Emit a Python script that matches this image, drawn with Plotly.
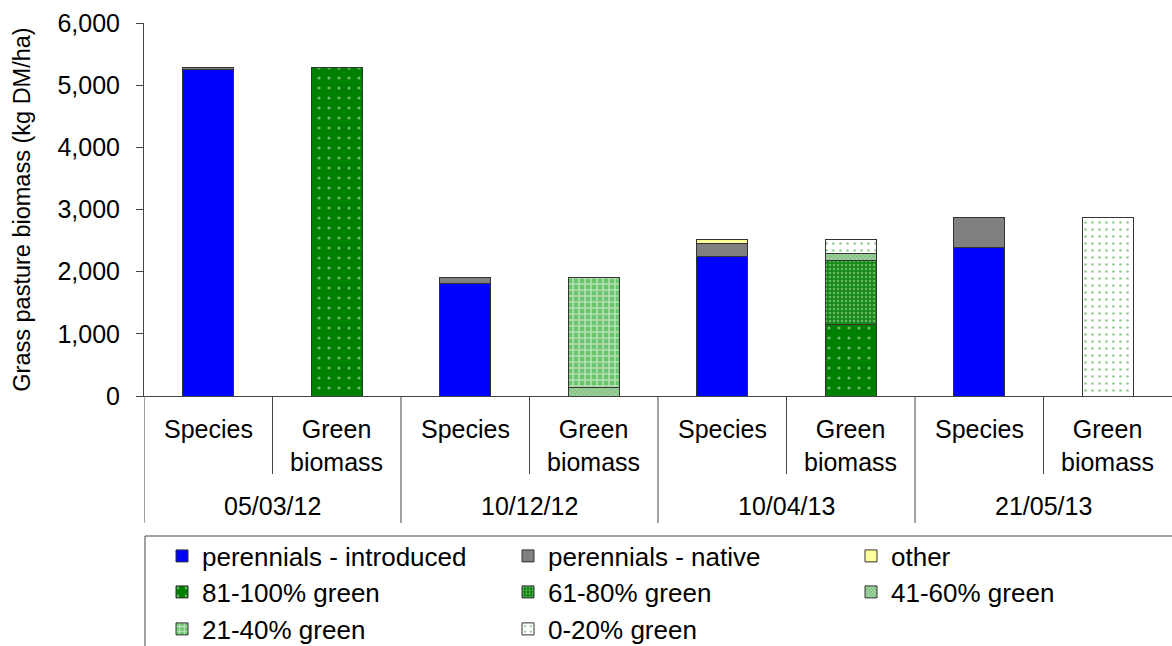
import plotly.graph_objects as go

dates = ["05/03/12", "10/12/12", "10/04/13", "21/05/13"]
kinds = ["Species", "Green<br>biomass"]

# Species composition (kg DM/ha)
perennials_introduced = [5250, 1815, 2240, 2390]
perennials_native = [30, 95, 220, 475]
other = [0, 0, 60, 0]

# Green biomass classes (kg DM/ha)
g81_100 = [5280, 0, 1150, 0]
g61_80 = [0, 0, 1035, 0]
g41_60 = [0, 130, 110, 0]
g21_40 = [0, 1780, 0, 0]
g0_20 = [0, 0, 225, 2865]

cats = [f"{d}|{k}" for d in dates for k in kinds]


def species_vals(v):
    out = []
    for val in v:
        out += [val if val else None, None]
    return out


def green_vals(v):
    out = []
    for val in v:
        out += [None, val if val else None]
    return out


FONT = "Liberation Sans, Arial, sans-serif"
FS = 25
line = dict(color="#333333", width=1)

series = [
    ("perennials - introduced", species_vals(perennials_introduced), dict(color="#0000FF")),
    ("perennials - native", species_vals(perennials_native), dict(color="#808080")),
    ("other", species_vals(other), dict(color="#FFFF99")),
    ("81-100% green", green_vals(g81_100),
     dict(color="#008000", pattern=dict(shape=".", fgcolor="#d8f0d8", bgcolor="#008000", size=10, solidity=0.08))),
    ("61-80% green", green_vals(g61_80),
     dict(color="#1a8c1a", pattern=dict(shape=".", fgcolor="#b8e8b8", bgcolor="#168816", size=4, solidity=0.3))),
    ("41-60% green", green_vals(g41_60),
     dict(color="#78b878", pattern=dict(shape="x", fgcolor="#4a9a4a", bgcolor="#a8d8a8", size=3, solidity=0.5))),
    ("21-40% green", green_vals(g21_40),
     dict(color="#7ccc7c", pattern=dict(shape="+", fgcolor="#ffffff", bgcolor="#6cc46c", size=6, solidity=0.45))),
    ("0-20% green", green_vals(g0_20),
     dict(color="#ffffff", pattern=dict(shape=".", fgcolor="#2a9a2a", bgcolor="#ffffff", size=7, solidity=0.12))),
]

L, T, B = 144, 23, 250
W, H = 1172, 646
pw, ph = W - L, H - T - B


def px_x(p):
    return (p - L) / pw


def px_y(p):
    return (H - B - p) / ph


# legend grid: symbol centre x (px) per column, text centre y (px) per row
col_x = [183, 529, 872]
row_y = [556, 592, 629]

fig = go.Figure()
legends = {}
for i, (name, vals, marker) in enumerate(series):
    m = dict(marker)
    m["line"] = line
    lg = "legend" if i == 0 else f"legend{i + 1}"
    fig.add_trace(go.Bar(x=cats, y=vals, name=name, marker=m, legend=lg))
    r, c = divmod(i, 3)
    legends[lg] = dict(x=px_x(col_x[c] - 21), y=px_y(row_y[r]), xanchor="left", yanchor="middle",
                       orientation="h", font=dict(family=FONT, size=26, color="#000000"),
                       bgcolor="rgba(0,0,0,0)", borderwidth=0)

annotations = []
for ci, c in enumerate(cats):
    d, k = c.split("|")
    annotations.append(dict(x=c, xref="x", y=px_y(413), yref="paper", text=k, showarrow=False,
                            xanchor="center", yanchor="top", align="center",
                            font=dict(family=FONT, size=FS, color="#000000")))
for gi, d in enumerate(dates):
    annotations.append(dict(x=2 * gi + 0.5, xref="x", y=px_y(506), yref="paper", text=d, showarrow=False,
                            xanchor="center", yanchor="middle",
                            font=dict(family=FONT, size=FS, color="#000000")))

shapes = []
# boundaries between categories: short (inner) and long (group dividers); right edge lies off-canvas
for b in range(len(cats)):
    xb = b - 0.5
    bottom = 523 if b % 2 == 0 else 474
    shapes.append(dict(type="line", xref="x", yref="paper", x0=xb, x1=xb, y0=0, y1=px_y(bottom),
                       line=dict(color="#444444", width=1)))
# legend frame
shapes.append(dict(type="rect", xref="paper", yref="paper",
                   x0=px_x(145), x1=1.005, y0=px_y(652), y1=px_y(536),
                   line=dict(color="#444444", width=1), fillcolor="rgba(0,0,0,0)"))

fig.update_layout(
    width=W, height=H,
    margin=dict(l=L, r=0, t=T, b=B, autoexpand=False),
    barmode="stack", bargap=0.6,
    plot_bgcolor="white", paper_bgcolor="white",
    font=dict(family=FONT, size=FS, color="#000000"),
    xaxis=dict(type="category", categoryorder="array", categoryarray=cats, showticklabels=False,
               showline=True, linecolor="#444444", linewidth=1, ticks="", showgrid=False,
               range=[-0.5, len(cats) - 0.5], automargin=False),
    yaxis=dict(range=[0, 6000], dtick=1000, tickformat=",", showline=True, linecolor="#444444",
               linewidth=1, ticks="outside", ticklen=7, tickcolor="#444444", showgrid=False,
               zeroline=False, automargin=False, ticklabelstandoff=11,
               tickfont=dict(family=FONT, size=FS, color="#000000"),
               title=dict(text="Grass pasture biomass (kg DM/ha)", standoff=20,
                          font=dict(family=FONT, size=23.5, color="#000000"))),
    annotations=annotations,
    shapes=shapes,
    showlegend=True,
    **legends,
)

fig.write_html("out.html", config={"displayModeBar": False},
               post_script="document.body.style.margin='0';document.body.style.overflow='hidden';")
